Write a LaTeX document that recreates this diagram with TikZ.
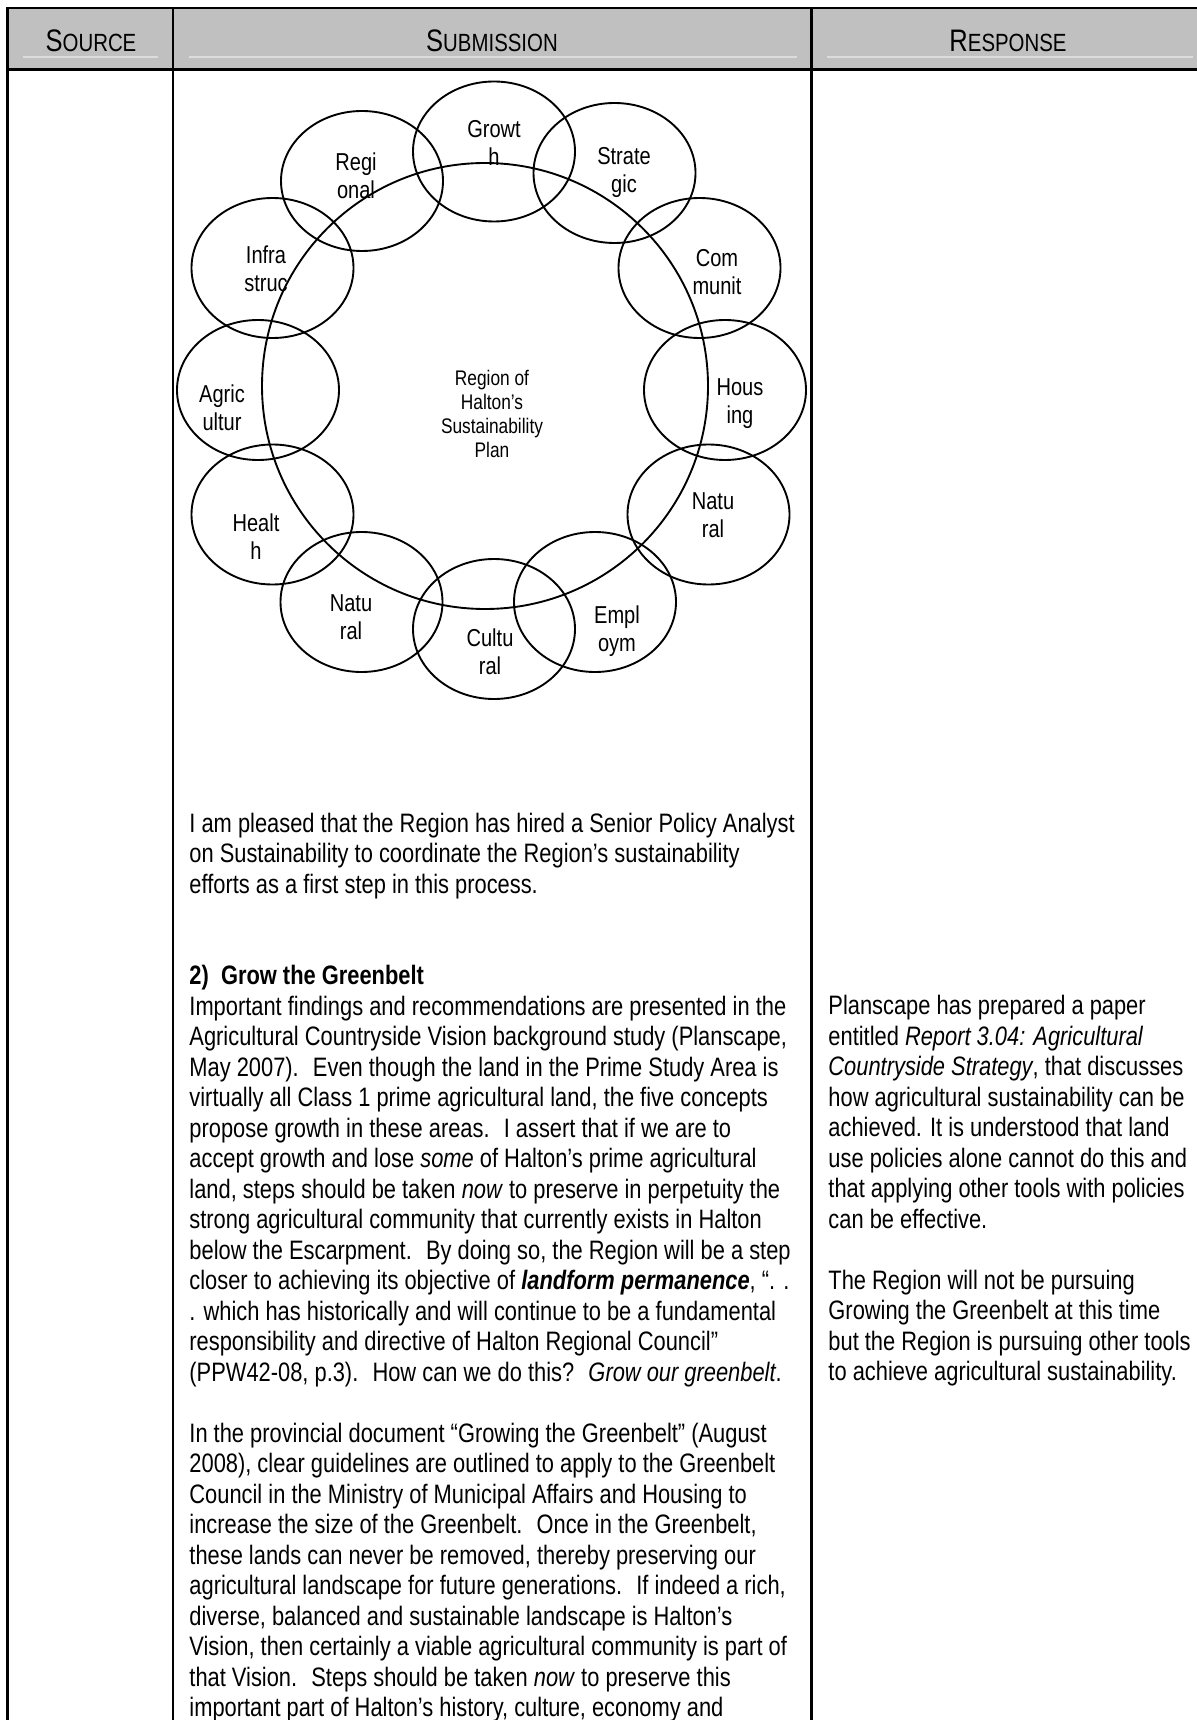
\documentclass[tikz,border=0pt]{standalone}
\usepackage{fontspec}
\setmainfont{Liberation Sans}[FakeStretch=0.82]
\usetikzlibrary{shapes.geometric}
\definecolor{hdrgray}{HTML}{C0C0C0}
\definecolor{hdrrule}{HTML}{DCDCDC}
\newcommand{\txl}[1]{\hbox{#1}}
\newcommand{\fsc}[2]{{\fontsize{14}{16}\selectfont #1}{\fontsize{11.2}{16}\selectfont #2}}
\begin{document}
\begin{tikzpicture}[x=0.45pt,y=-0.45pt,
  border/.style={line width=1.2pt},
  hrule/.style={draw=hdrrule, line width=0.5pt},
  petal/.style={draw, ellipse, line width=0.85pt, minimum width=72.9pt, minimum height=63pt, inner sep=0pt},
  hubstyle/.style={draw, circle, line width=0.85pt, minimum size=200.7pt, inner sep=0pt},
  petaltxt/.style={align=center, inner sep=0pt, font=\fontsize{11}{12.6}\selectfont},
  hubtxt/.style={align=center, inner sep=0pt, font=\fontsize{9.5}{10.8}\selectfont},
  bodytxt/.style={anchor=base west, inner sep=0pt, font=\fontsize{12}{13.725}\selectfont},
  hdr/.style={anchor=base, inner sep=0pt}]
\useasboundingbox (0,0) rectangle (1197,1720);
% header band
\fill[hdrgray] (7,8) rectangle (1197,69.5);
\draw[hrule] (23,57) -- (158,57);
\draw[hrule] (189,57) -- (797,57);
\draw[hrule] (827,57) -- (1193,57);
\node[hdr] (hsrc) at (91,52) {\fsc{S}{OURCE}};
\node[hdr] (hsub) at (492,52) {\fsc{S}{UBMISSION}};
\node[hdr] (hres) at (1008,52) {\fsc{R}{ESPONSE}};
% table rules
\draw[border] (1197,8) -- (7.2,8) -- (7.2,1720);
\draw[border] (7.2,69.7) -- (1197,69.7);
\draw[border] (173,8) -- (173,1720);
\draw[border] (811.5,8) -- (811.5,1720);
% diagram
\node[hubstyle] (hub) at (485,386) {};
\node[petal] (regional) at (362,181) {};
\node[petal] (growth) at (494,151.5) {};
\node[petal] (strategic) at (614.5,173) {};
\node[petal] (infra) at (272.5,268) {};
\node[petal] (community) at (699.5,268) {};
\node[petal] (agric) at (258,390) {};
\node[petal] (housing) at (725,390) {};
\node[petal] (health) at (272.5,514.5) {};
\node[petal] (naturalr) at (708.5,514.5) {};
\node[petal] (naturall) at (361.5,602) {};
\node[petal] (cultural) at (494,629) {};
\node[petal] (employ) at (595,602) {};
\node[petaltxt] (regionalt) at (356,176) {Regi\\onal};
\node[petaltxt] (growtht) at (494,143) {Growt\\h};
\node[petaltxt] (strategict) at (624,172.5) {Strate\\gic};
\node[petaltxt] (infrat) at (266,269) {Infra\\struc};
\node[petaltxt] (communityt) at (717,272.5) {Com\\munit};
\node[petaltxt] (agrict) at (222,408) {Agric\\ultur};
\node[petaltxt] (housingt) at (740,404) {Hous\\ing};
\node[petaltxt] (healtht) at (256,537) {Healt\\h};
\node[petaltxt] (naturalrt) at (713,515) {Natu\\ral};
\node[petaltxt] (naturallt) at (351,617) {Natu\\ral};
\node[petaltxt] (culturalt) at (490,652) {Cultu\\ral};
\node[petaltxt] (employt) at (617,631) {Empl\\oym};
\node[hubtxt] (hubt) at (492,413.5) {Region of\\Halton’s\\Sustainability\\Plan};
% submission text
\node[bodytxt] (subtext) at (189,832) {\vtop{%
\txl{I am pleased that the Region has hired a Senior Policy Analyst}%
\txl{on Sustainability to coordinate the Region’s sustainability}%
\txl{efforts as a first step in this process.}%
\txl{}\txl{}%
\txl{\textbf{2)~ Grow the Greenbelt}}%
\txl{Important findings and recommendations are presented in the}%
\txl{Agricultural Countryside Vision background study (Planscape,}%
\txl{May 2007).~ Even though the land in the Prime Study Area is}%
\txl{virtually all Class 1 prime agricultural land, the five concepts}%
\txl{propose growth in these areas.~ I assert that if we are to}%
\txl{accept growth and lose \textit{some} of Halton’s prime agricultural}%
\txl{land, steps should be taken \textit{now} to preserve in perpetuity the}%
\txl{strong agricultural community that currently exists in Halton}%
\txl{below the Escarpment.~ By doing so, the Region will be a step}%
\txl{closer to achieving its objective of \textbf{\textit{landform permanence}}, “. .}%
\txl{. which has historically and will continue to be a fundamental}%
\txl{responsibility and directive of Halton Regional Council”}%
\txl{(PPW42-08, p.3).~ How can we do this?~ \textit{Grow our greenbelt}.}%
\txl{}%
\txl{In the provincial document “Growing the Greenbelt” (August}%
\txl{2008), clear guidelines are outlined to apply to the Greenbelt}%
\txl{Council in the Ministry of Municipal Affairs and Housing to}%
\txl{increase the size of the Greenbelt.~ Once in the Greenbelt,}%
\txl{these lands can never be removed, thereby preserving our}%
\txl{agricultural landscape for future generations.~ If indeed a rich,}%
\txl{diverse, balanced and sustainable landscape is Halton’s}%
\txl{Vision, then certainly a viable agricultural community is part of}%
\txl{that Vision.~ Steps should be taken \textit{now} to preserve this}%
\txl{important part of Halton’s history, culture, economy and}%
}};
% response text
\node[bodytxt] (restext) at (828,1014.5) {\vtop{%
\txl{Planscape has prepared a paper}%
\txl{entitled \textit{Report 3.04: Agricultural}}%
\txl{\textit{Countryside Strategy}, that discusses}%
\txl{how agricultural sustainability can be}%
\txl{achieved. It is understood that land}%
\txl{use policies alone cannot do this and}%
\txl{that applying other tools with policies}%
\txl{can be effective.}%
\txl{}%
\txl{The Region will not be pursuing}%
\txl{Growing the Greenbelt at this time}%
\txl{but the Region is pursuing other tools}%
\txl{to achieve agricultural sustainability.}%
}};
\end{tikzpicture}
\end{document}
